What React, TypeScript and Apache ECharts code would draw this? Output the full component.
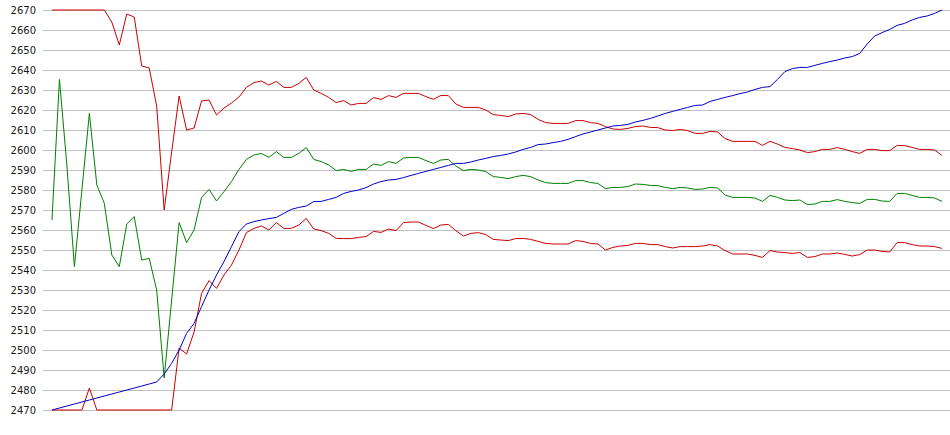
import React, { useEffect, useRef } from "react";
import * as echarts from "echarts";

const upperBand: number[] = [
  2670, 2670, 2670, 2670, 2670, 2670, 2670, 2670, 2664, 2652.5,
  2668, 2666.5, 2642, 2641, 2622, 2570, 2599, 2627, 2610, 2611,
  2624.5, 2625, 2617.5, 2621, 2623.5, 2626.5, 2631.3, 2633.7, 2634.5, 2632.5,
  2634.3, 2631.3, 2631.3, 2633.3, 2636.3, 2630, 2628.3, 2626.3, 2623.7, 2624.7,
  2622.5, 2623.3, 2623.3, 2626.2, 2625.3, 2627.2, 2626.3, 2628.3, 2628.3, 2628.3,
  2626.7, 2625.3, 2627.3, 2627.2, 2623, 2621.3, 2621.3, 2621.3, 2620, 2617.7,
  2617.3, 2616.7, 2618, 2618.3, 2617.7, 2615.3, 2613.7, 2613.3, 2613.3, 2613.3,
  2614.7, 2614.7, 2613.7, 2613.3, 2611.7, 2610.5, 2610.3, 2610.8, 2611.7, 2612,
  2611.3, 2611.2, 2610, 2609.7, 2610.3, 2609.7, 2608.3, 2608.3, 2609.3, 2609,
  2605.7, 2604.3, 2604.3, 2604.3, 2604.3, 2602.3, 2604.3, 2603, 2601.3, 2600.7,
  2600, 2598.7, 2599.2, 2600.3, 2600.3, 2601.2, 2600.3, 2599.2, 2598.3, 2600.3,
  2600.3, 2599.7, 2599.7, 2602.3, 2602.2, 2601.3, 2600.3, 2600.3, 2600, 2597.3,
];

const middleLine: number[] = [
  2565, 2635.3, 2592, 2541.7, 2580, 2618.3, 2582.5, 2573.3, 2547.5, 2541.7,
  2563, 2566.7, 2545, 2545.8, 2530, 2486, 2525, 2563.7, 2553.7, 2560,
  2576.3, 2580.3, 2574.5, 2579.2, 2584.2, 2590.3, 2595.3, 2597.5, 2598.3, 2596.3,
  2599.2, 2596.3, 2596.3, 2598.3, 2601.2, 2595.3, 2594.2, 2592.5, 2589.7, 2590.3,
  2589.3, 2590.3, 2590.3, 2593, 2592.3, 2594.2, 2593.3, 2596, 2596.3, 2596.3,
  2594.7, 2593.3, 2595, 2595.3, 2592, 2589.7, 2590.3, 2590, 2589.2, 2586.7,
  2586.3, 2585.7, 2586.7, 2587.3, 2586.7, 2585, 2583.7, 2583.3, 2583.3, 2583.3,
  2584.7, 2584.7, 2583.7, 2583.3, 2580.7, 2581.3, 2581.3, 2581.7, 2583, 2582.8,
  2582.3, 2582.2, 2581.3, 2580.7, 2581.3, 2581, 2580.3, 2580.5, 2581.3, 2581,
  2577.5, 2576.3, 2576.3, 2576.3, 2576, 2574.3, 2577.3, 2576.3, 2575, 2574.7,
  2575, 2572.7, 2573, 2574.3, 2574.3, 2575.2, 2574.3, 2573.7, 2573.3, 2575.3,
  2575.3, 2574.5, 2574.3, 2578.3, 2578.3, 2577.3, 2576.3, 2576.3, 2576, 2574.3,
];

const lowerBand: number[] = [
  2470, 2470, 2470, 2470, 2470, 2481, 2470, 2470, 2470, 2470,
  2470, 2470, 2470, 2470, 2470, 2470, 2470, 2501, 2498, 2509,
  2528.3, 2534.7, 2530.8, 2537.5, 2542.5, 2550, 2558.7, 2560.8, 2562, 2560,
  2563.7, 2560.8, 2560.8, 2562.5, 2565.8, 2560.5, 2559.7, 2558.3, 2555.8, 2555.7,
  2555.7, 2556.3, 2556.7, 2559.3, 2558.8, 2560.5, 2559.7, 2563.7, 2564, 2564,
  2562.3, 2560.7, 2562.5, 2562.8, 2559.7, 2557, 2558.3, 2558.7, 2557.7, 2555.3,
  2555, 2554.7, 2555.7, 2555.8, 2555.3, 2554.3, 2553.3, 2553, 2553, 2553,
  2554.7, 2554.3, 2553.3, 2553, 2550, 2551.3, 2552, 2552.3, 2553.3, 2553.3,
  2552.7, 2552.7, 2551.7, 2551, 2551.7, 2551.7, 2551.7, 2552, 2552.7, 2552,
  2549.7, 2548, 2548, 2548, 2547.3, 2546.3, 2549.7, 2549, 2548.7, 2548.3,
  2548.7, 2546.3, 2546.7, 2548, 2548, 2548.5, 2547.8, 2547, 2547.7, 2550,
  2550, 2549.3, 2549, 2553.7, 2553.7, 2552.7, 2552, 2552, 2551.7, 2550.8,
];

const blueLine: number[] = [
  2470, 2471, 2472, 2473, 2474, 2475, 2476, 2477, 2478, 2479,
  2480, 2481, 2482, 2483, 2484, 2488, 2493.3, 2500, 2508.3, 2513.3,
  2521.7, 2530, 2537.5, 2544.2, 2551.7, 2559.2, 2563, 2564.2, 2565, 2565.7,
  2566.3, 2568.3, 2570.3, 2571.3, 2572, 2574.2, 2574.3, 2575.3, 2576.3, 2578.3,
  2579.3, 2580, 2581.2, 2583, 2584.2, 2585, 2585.3, 2586.2, 2587.3, 2588.3,
  2589.3, 2590.3, 2591.3, 2592.3, 2593.3, 2593.3, 2594, 2595, 2595.8, 2596.7,
  2597.3, 2598, 2599, 2600.3, 2601.3, 2602.7, 2603, 2603.7, 2604.3, 2605.3,
  2606.7, 2608, 2609, 2610, 2611, 2612, 2612.3, 2612.8, 2614, 2614.8,
  2615.8, 2617, 2618.3, 2619.3, 2620.3, 2621.3, 2622.3, 2622.5, 2624.3, 2625.3,
  2626.3, 2627.2, 2628.2, 2629, 2630.3, 2631.3, 2631.7, 2635.3, 2639.2, 2640.7,
  2641.3, 2641.3, 2642.3, 2643.3, 2644.2, 2645, 2646, 2646.7, 2648.3, 2653,
  2657, 2658.7, 2660.3, 2662.3, 2663.3, 2665, 2666.3, 2667, 2668.3, 2670,
];

const yMin = 2470;
const yMax = 2670;
const yStep = 10;

const pairs = (arr: number[]) => arr.map((v, i) => [i, v]);

export default function App() {
  const ref = useRef<HTMLDivElement>(null);
  useEffect(() => {
    if (!ref.current) return;
    const chart = echarts.init(ref.current, undefined, { renderer: "svg" });
    const mk = (name: string, data: number[], color: string) => ({
      name,
      type: "line",
      data: pairs(data),
      symbol: "none",
      showSymbol: false,
      clip: false,
      lineStyle: { color, width: 1 },
      itemStyle: { color },
    });
    chart.setOption({
      animation: false,
      backgroundColor: "#ffffff",
      grid: { left: 43, right: 0, top: 10, bottom: 25, containLabel: false },
      xAxis: {
        type: "value",
        min: -1.2,
        max: 120.07,
        axisLine: { show: false },
        axisTick: { show: false },
        axisLabel: { show: false },
        splitLine: { show: false },
      },
      yAxis: {
        type: "value",
        min: yMin,
        max: yMax,
        interval: yStep,
        axisLine: { show: false },
        axisTick: { show: false },
        axisLabel: {
          margin: 7,
          color: "#1a1a1a",
          fontFamily: "DejaVu Sans",
          fontSize: 10,
          formatter: (v: number) => String(v),
        },
        splitLine: { lineStyle: { color: "#c0c0c0", width: 1 } },
      },
      series: [
        mk("Upper", upperBand, "#cc0000"),
        mk("Lower", lowerBand, "#cc0000"),
        mk("Middle", middleLine, "#008000"),
        mk("Price", blueLine, "#0000cc"),
      ],
    });
    return () => chart.dispose();
  }, []);
  return <div ref={ref} style={{ width: 950, height: 435, position: "absolute", left: 0, top: 0 }} />;
}
